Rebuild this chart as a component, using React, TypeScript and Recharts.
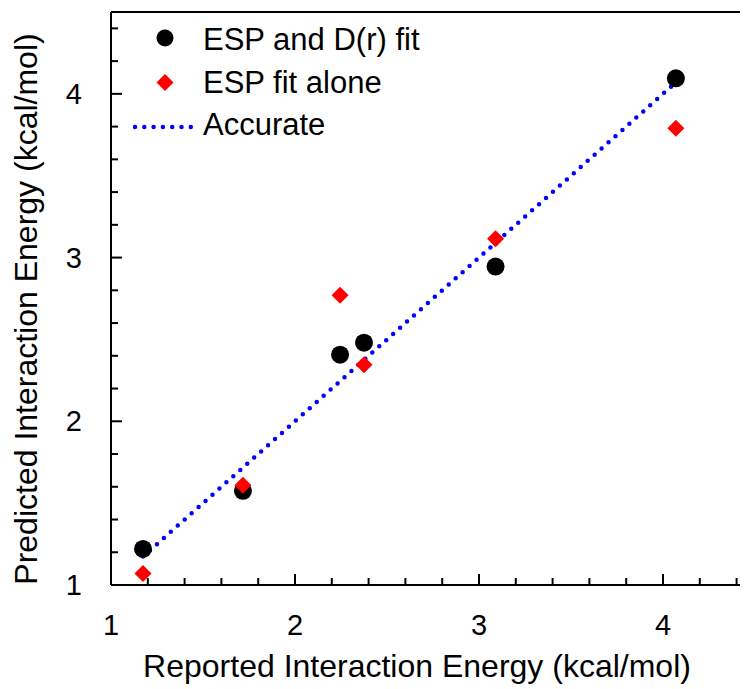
import { Scatter, Line, XAxis, YAxis, ReferenceLine, ComposedChart } from "recharts";

// reported vs predicted interaction energies (kcal/mol)
const reported = [1.174, 1.717, 2.245, 2.375, 3.09, 4.07];
const espAndDr = [1.22, 1.575, 2.407, 2.48, 2.945, 4.095];
const espAlone = [1.07, 1.61, 2.77, 2.345, 3.115, 3.79];
const accurateX = [1.174, 4.07];

const xTicks = [1, 1.2, 1.4, 1.6, 1.8, 2, 2.2, 2.4, 2.6, 2.8, 3, 3.2, 3.4, 3.6, 3.8, 4, 4.2, 4.4];
const yTicks = [1, 1.2, 1.4, 1.6, 1.8, 2, 2.2, 2.4, 2.6, 2.8, 3, 3.2, 3.4, 3.6, 3.8, 4, 4.2, 4.4];

const drData = reported.map((x, i) => ({ x, y: espAndDr[i] }));
const aloneData = reported.map((x, i) => ({ x, y: espAlone[i] }));
const accurateData = accurateX.map((x) => ({ x, y: x }));

const FONT = "'Liberation Sans', Arial, sans-serif";

const isMajor = (v: number) => Math.abs(v - Math.round(v)) < 1e-6;

const XTick = (props: any) => {
  const { x, y, payload } = props;
  const major = isMajor(payload.value);
  return (
    <g>
      <line x1={x} x2={x} y1={y} y2={y - (major ? 11 : 7)} stroke="#000" strokeWidth={2} />
      {major && (
        <text x={x} y={y + 50} textAnchor="middle" fontSize={29} fontFamily={FONT} fill="#000">
          {Math.round(payload.value)}
        </text>
      )}
    </g>
  );
};

const YTick = (props: any) => {
  const { x, y, payload } = props;
  const major = isMajor(payload.value);
  return (
    <g>
      <line x1={x} x2={x + (major ? 11 : 7)} y1={y} y2={y} stroke="#000" strokeWidth={2} />
      {major && (
        <text x={x - 29} y={y + 10} textAnchor="end" fontSize={29} fontFamily={FONT} fill="#000">
          {Math.round(payload.value)}
        </text>
      )}
    </g>
  );
};

const Dot = (props: any) => <circle cx={props.cx} cy={props.cy} r={9} fill="#000" />;
const Diamond = (props: any) => {
  const { cx, cy } = props;
  const s = 8.5;
  return <polygon points={`${cx},${cy - s} ${cx + s},${cy} ${cx},${cy + s} ${cx - s},${cy}`} fill="#ff0000" />;
};

const LegendBox = () => (
  <svg width={300} height={130} style={{ display: "block" }}>
    <circle cx={32} cy={26} r={8.5} fill="#000" />
    <text x={70} y={38} fontSize={31} fontFamily={FONT} fill="#000">ESP and D(r) fit</text>
    <polygon points="32,62 40.5,70.5 32,79 23.5,70.5" fill="#ff0000" />
    <text x={70} y={81} fontSize={31} fontFamily={FONT} fill="#000">ESP fit alone</text>
    <line x1={2} x2={58} y1={115} y2={115} stroke="#0000ff" strokeWidth={4.5} strokeDasharray="0 9.3" strokeLinecap="round" />
    <text x={70} y={123} fontSize={31} fontFamily={FONT} fill="#000">Accurate</text>
  </svg>
);

export default function App() {
  return (
    <div style={{ width: 740, height: 681, overflow: "hidden", position: "relative" }}>
      <ComposedChart width={800} height={681} margin={{ top: 4, right: 53, left: 0, bottom: 0 }}>
        <XAxis
          dataKey="x"
          type="number"
          domain={[1, 4.5]}
          ticks={xTicks}
          interval={0}
          allowDataOverflow
          height={104}
          tickSize={0}
          tickMargin={0}
          tick={<XTick />}
          axisLine={{ stroke: "#000", strokeWidth: 2 }}
          tickLine={false}
          label={{
            content: () => (
              <text x={409} y={669} textAnchor="middle" fontSize={32} fontFamily={FONT} fill="#000">
                Reported Interaction Energy (kcal/mol)
              </text>
            ),
          }}
        />
        <YAxis
          dataKey="y"
          type="number"
          domain={[1, 4.5]}
          ticks={yTicks}
          interval={0}
          allowDataOverflow
          width={103}
          tickSize={0}
          tickMargin={0}
          tick={<YTick />}
          axisLine={{ stroke: "#000", strokeWidth: 2 }}
          tickLine={false}
          label={{
            content: () => (
              <text
                x={29}
                y={301}
                textAnchor="middle"
                fontSize={32}
                fontFamily={FONT}
                fill="#000"
                transform="rotate(-90, 29, 301)"
              >
                Predicted Interaction Energy (kcal/mol)
              </text>
            ),
          }}
        />
        <ReferenceLine y={4.5} stroke="#000" strokeWidth={2} />
        <Line
          data={accurateData}
          dataKey="y"
          type="linear"
          stroke="#0000ff"
          strokeWidth={4.5}
          strokeDasharray="0 9.3"
          strokeLinecap="round"
          dot={false}
          activeDot={false}
          isAnimationActive={false}
          legendType="none"
        />
        <Scatter data={drData} dataKey="y" shape={<Dot />} isAnimationActive={false} />
        <Scatter data={aloneData} dataKey="y" shape={<Diamond />} isAnimationActive={false} />
      </ComposedChart>
      <div style={{ position: "absolute", top: 4, left: 125 }}>
        <LegendBox />
      </div>
    </div>
  );
}
